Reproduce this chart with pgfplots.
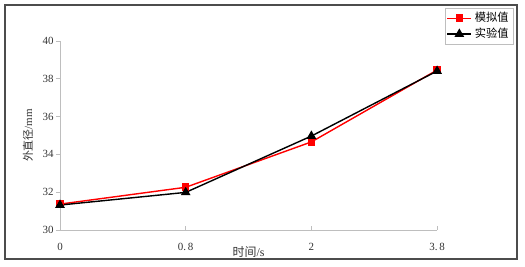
\documentclass[border=0pt]{standalone}
\usepackage{pgfplots}
\pgfplotsset{compat=1.18}
\usepackage{fontspec}
\setmainfont{Liberation Serif}
\newfontfamily\cjk{Noto Sans CJK SC}
\definecolor{axgray}{RGB}{190,190,190}
\begin{document}
\begin{tikzpicture}[x=0.025cm,y=0.025cm]
\begin{axis}[
  scale only axis,
  width=9.425cm, height=4.725cm,
  xmin=0, xmax=3, ymin=30, ymax=40,
  xtick={0,1,2,3},
  xticklabels={0,0.\,8,2,3.\,8},
  ytick={30,32,34,36,38,40},
  axis x line*=bottom, axis y line*=left,
  axis line style={draw=axgray, line width=0.6pt},
  every tick/.style={draw=axgray, line width=0.6pt},
  major tick length=3pt,
  x tick style={/pgfplots/tick align=inside},
  y tick style={/pgfplots/tick align=outside},
  tick label style={font=\fontsize{7.8}{9}\selectfont, text=black!80},
  /pgf/number format/assume math mode=true,
  xticklabel style={yshift=-6pt},
  yticklabel style={xshift=-1pt},
  xlabel={\cjk 时间\rmfamily/s},
  ylabel={\cjk 外直径\rmfamily/mm},
  label style={text=black!80},
  xlabel style={font=\fontsize{8.5}{9}\selectfont, at={(axis description cs:0.5,-0.117)}, anchor=center},
  ylabel style={font=\fontsize{7.8}{9}\selectfont, at={(axis description cs:-0.085,0.5)}, anchor=center},
  clip=false,
  legend style={at={(1.2016,1.1746)}, anchor=north east, draw=axgray,
    font=\cjk\fontsize{8}{9}\selectfont, inner sep=1pt, row sep=-1pt,
    /tikz/every even column/.append style={column sep=1pt}},
  legend cell align=left,
]
\coordinate (SW) at (rel axis cs:0,0);
\addplot[color=red, line width=1pt, mark=square*, mark size=2.2pt, mark options={fill=red}]
  coordinates {(0,31.37) (1,32.26) (2,34.66) (3,38.46)};
\addlegendentry{模拟值}
\addplot[color=black, line width=1pt, mark=triangle*, mark size=3pt, mark options={fill=black}]
  coordinates {(0,31.32) (1,31.99) (2,34.97) (3,38.41)};
\addlegendentry{实验值}
\end{axis}
\draw[draw=black!70, line width=0.8pt] (SW) ++(-55,-29) rectangle ++(512,254);
\pgfresetboundingbox
\path[use as bounding box] (SW) ++(-60,-36) rectangle ++(525,266);
\end{tikzpicture}
\end{document}
